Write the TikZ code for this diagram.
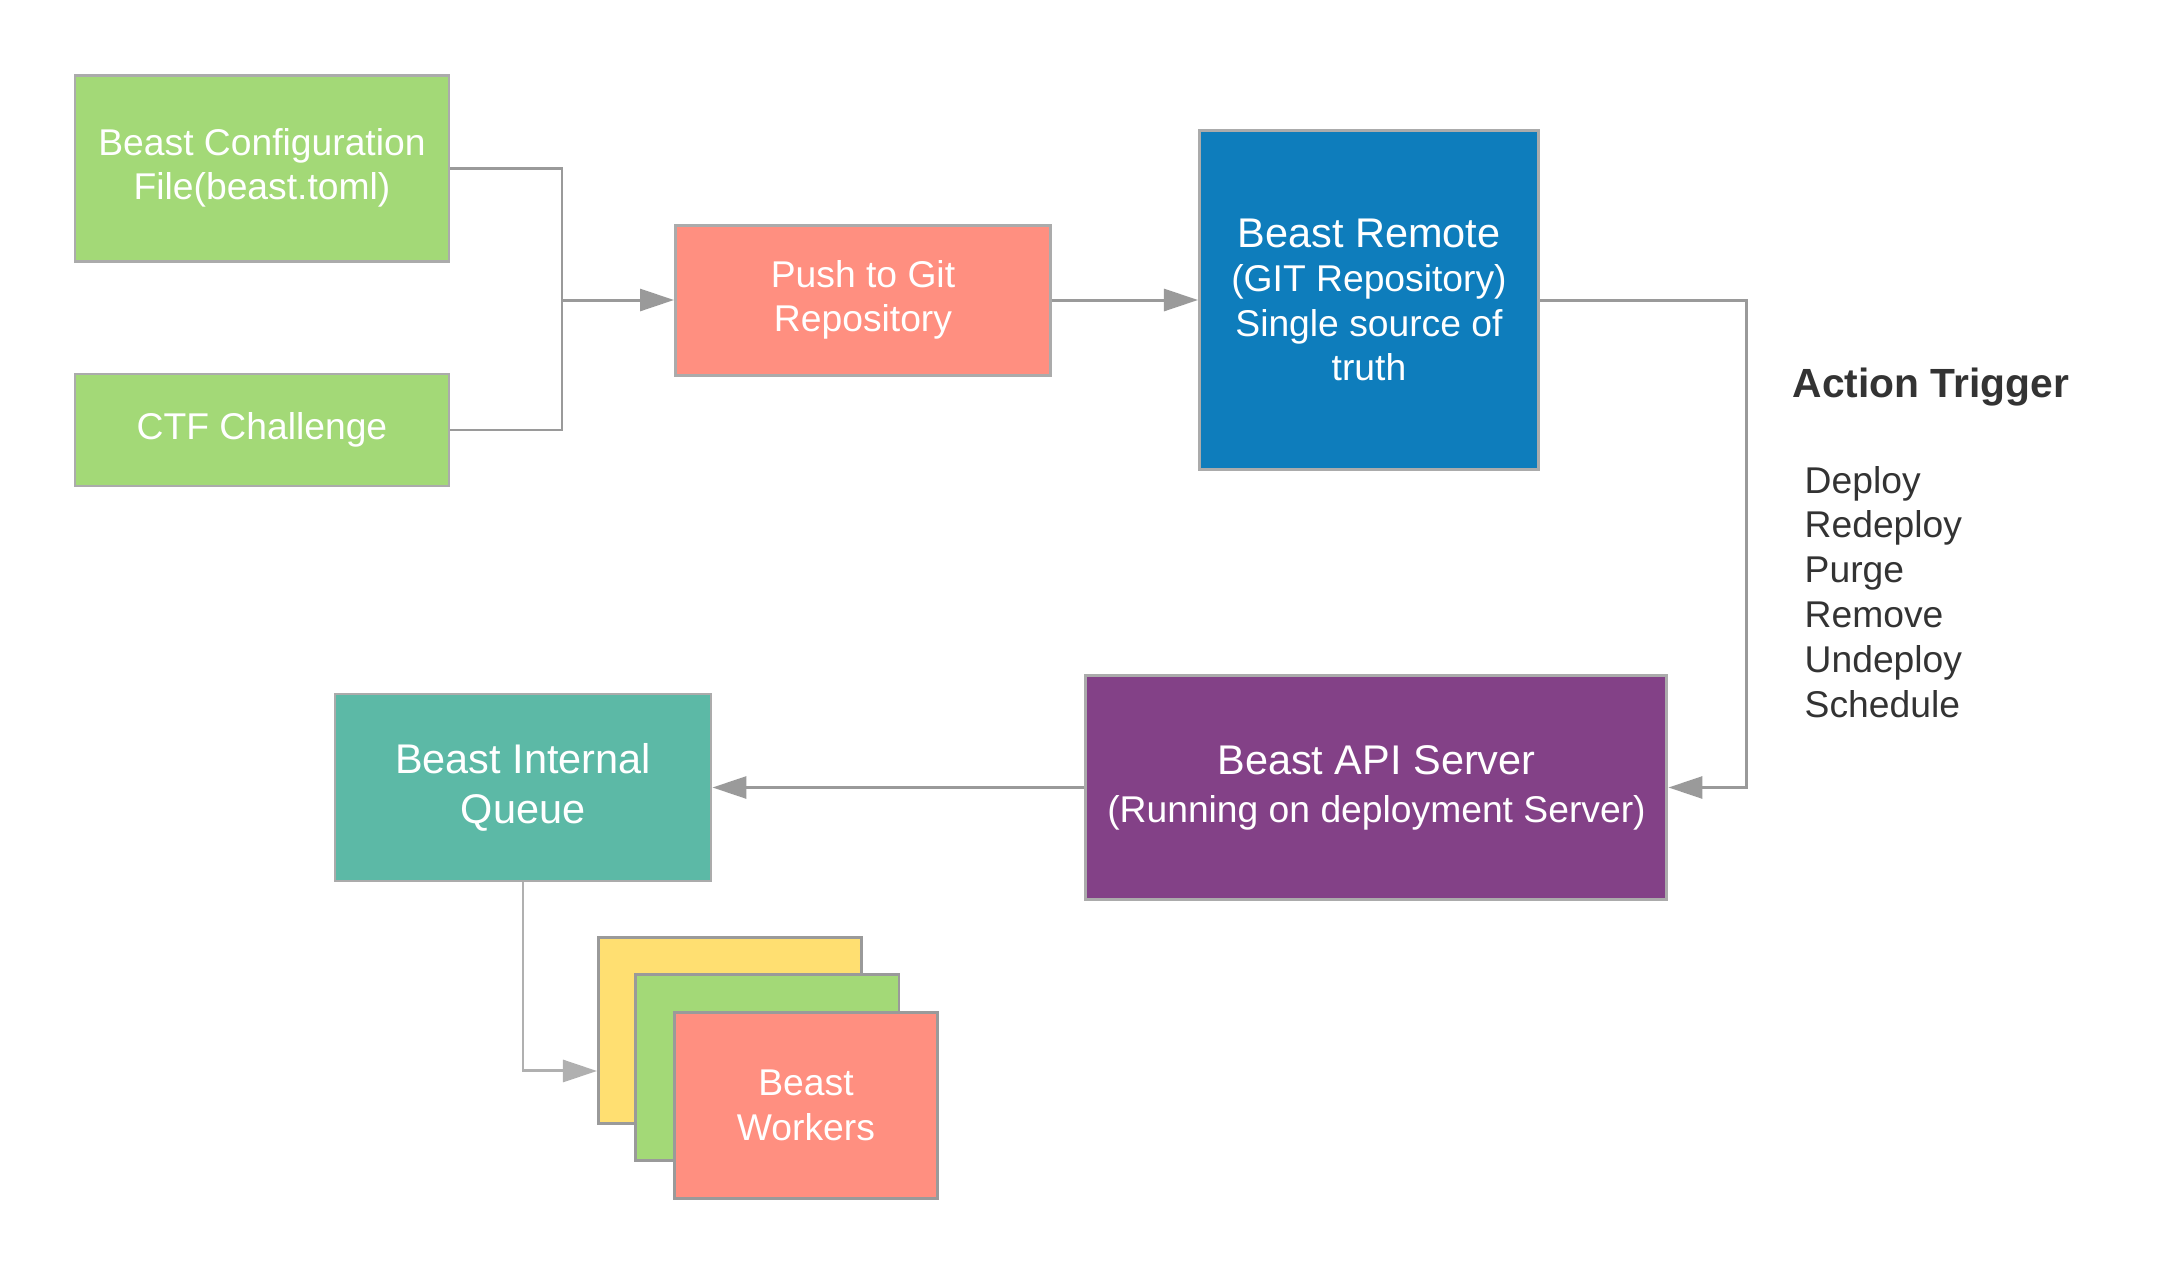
\documentclass[tikz,border=0pt]{standalone}
\usepackage{fontspec}
\setmainfont{Liberation Sans}
\usetikzlibrary{positioning,arrows.meta}
\definecolor{boxgreen}{HTML}{A3D977}
\definecolor{boxsalmon}{HTML}{FF8F80}
\definecolor{boxblue}{HTML}{0E7DBC}
\definecolor{boxpurple}{HTML}{834187}
\definecolor{boxteal}{HTML}{5CB9A6}
\definecolor{boxyellow}{HTML}{FFDF71}
\definecolor{edgegray}{HTML}{ABABAB}
\definecolor{wkgray}{HTML}{9A9A9A}
\definecolor{linegray}{HTML}{9A9A9A}
\definecolor{qgray}{HTML}{B0B0B0}
\definecolor{textdark}{HTML}{333333}
\newcommand{\bigline}{\fontsize{11.8}{14}\selectfont}
\begin{document}
\begin{tikzpicture}[box/.style={draw=edgegray,line width=0.85pt,text=white,align=center,inner sep=0pt,font=\fontsize{10.6}{12.6}\selectfont},
                wk/.style={box,draw=wkgray,minimum width=2.63cm,minimum height=1.86cm},
                link/.style={draw=linegray,line width=0.85pt},
                arr/.style={link,-{Triangle[length=0.34cm,width=0.22cm]}},
                title/.style={text=textdark,font=\fontsize{11.6}{14}\selectfont\bfseries,inner sep=0pt},
                act/.style={text=textdark,font=\fontsize{10.6}{12.6}\selectfont,inner sep=0pt},
                node distance={1cm}]
                \useasboundingbox (0,0) rectangle (21.75,-12.75);
                % sources
                \node[box,fill=boxgreen,minimum width=3.74cm,minimum height=1.86cm](cfg) at (2.62,-1.68){Beast Configuration\\File(beast.toml)};
                \node[box,fill=boxgreen,minimum width=3.74cm,minimum height=1.12cm](ctf)[below=1.10cm of cfg]{CTF Challenge};
                \coordinate(jn) at (5.62,-3.00);
                \node[box,fill=boxsalmon,minimum width=3.75cm,minimum height=1.50cm,anchor=west](push) at (6.74,-3.00){Push to Git\\Repository};
                \node[box,fill=boxblue,minimum width=3.39cm,minimum height=3.39cm](remote)[right=1.46cm of push]{{\bigline Beast Remote}\\(GIT Repository)\\Single source of\\truth};
                % server side
                \node[box,fill=boxpurple,minimum width=5.81cm,minimum height=2.24cm](api)[below=2.03cm of remote,xshift=0.075cm]{{\bigline Beast API Server}\\[1pt](Running on deployment Server)};
                \node[box,fill=boxteal,minimum width=3.76cm,minimum height=1.87cm,font=\fontsize{11.8}{14.2}\selectfont](queue)[left=3.72cm of api]{Beast Internal\\Queue};
                % workers
                \node[wk,fill=boxyellow](wk1)[below right=0.54cm and 0.74cm of queue.south]{};
                \node[wk,fill=boxgreen](wk2) at ([shift={(0.375,-0.37)}]wk1){};
                \node[wk,fill=boxsalmon](wk3) at ([shift={(0.385,-0.375)}]wk2){Beast\\Workers};
                % action list
                \node[title,anchor=base west](trig) at (17.92,-3.97){Action Trigger};
                \foreach \act [count=\i] in {Deploy,Redeploy,Purge,Remove,Undeploy,Schedule}
                    \node[act,anchor=base west](act\i) at (18.04,{-4.93-0.448*(\i-1)}){\act};
                % connectors
                \draw[link](cfg.east) -| (jn) |- (ctf.east);
                \draw[arr](jn) -- (push);
                \draw[arr](push) -- (remote);
                \draw[arr](remote.east) -- ++(2.07,0) |- (api.east);
                \draw[arr](api) -- (queue);
                \draw[arr,draw=qgray](queue.south) |- ([yshift=-0.4cm]wk1.west);
            \end{tikzpicture}
\end{document}
